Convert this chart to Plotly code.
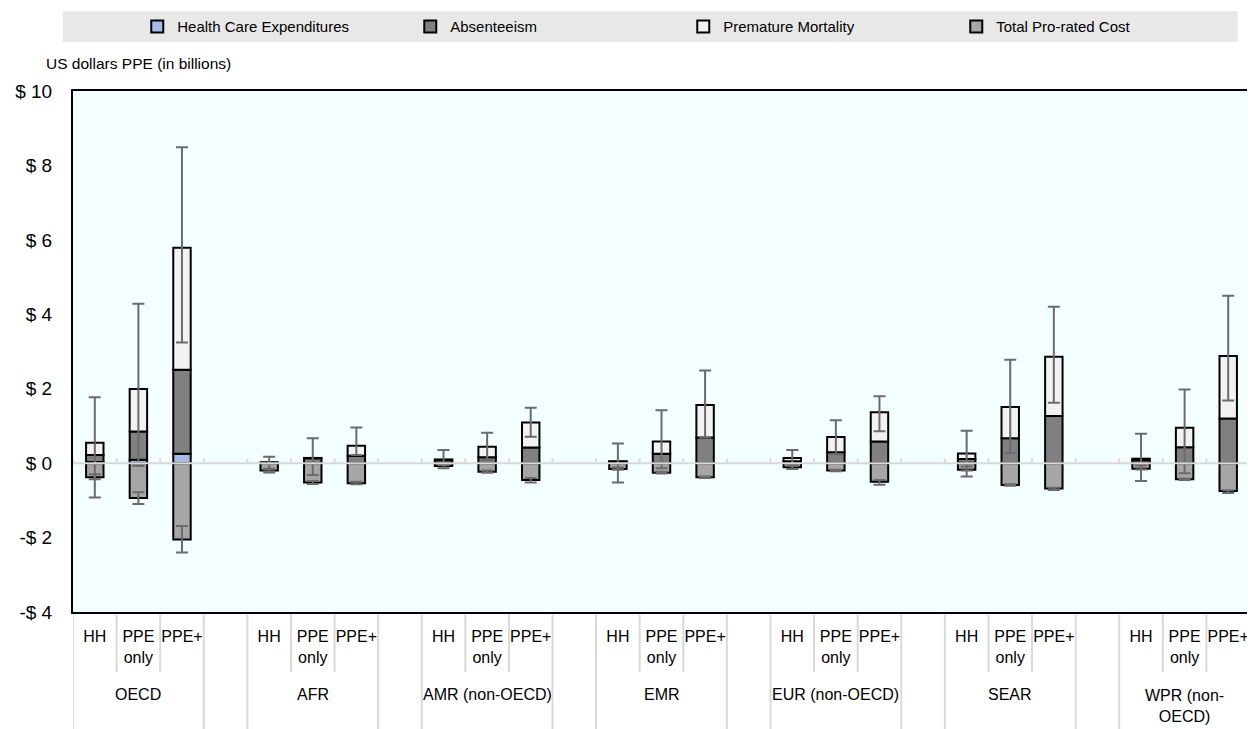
import plotly.graph_objects as go

# ---------------- data ----------------
groups = ["OECD", "AFR", "AMR (non-OECD)", "EMR", "EUR (non-OECD)", "SEAR", "WPR (non-<br>OECD)"]
interventions = ["HH", "PPE<br>only", "PPE+"]

health_care = [0.03, 0.09, 0.25,  None, None, None,  None, None, None,  None, None, None,
               None, None, None,  0.01, None, None,  None, None, None]
absenteeism = [0.19, 0.76, 2.26,  0.02, 0.13, 0.20,  0.08, 0.16, 0.42,  0.04, 0.25, 0.69,
               0.05, 0.29, 0.58,  0.10, 0.67, 1.27,  0.08, 0.43, 1.20]
premature = [0.33, 1.14, 3.28,  0.00, 0.01, 0.27,  0.02, 0.28, 0.67,  0.01, 0.33, 0.87,
             0.09, 0.41, 0.79,  0.15, 0.84, 1.59,  0.04, 0.52, 1.68]
total_cost = [-0.38, -0.94, -2.05,  -0.20, -0.52, -0.54,  -0.08, -0.23, -0.45,  -0.16, -0.26, -0.38,
              -0.11, -0.20, -0.50,  -0.18, -0.59, -0.68,  -0.15, -0.43, -0.75]
benefit_high = [1.77, 4.28, 8.49,  0.17, 0.67, 0.96,  0.35, 0.82, 1.49,  0.53, 1.42, 2.49,
                0.35, 1.15, 1.80,  0.87, 2.78, 4.20,  0.79, 1.98, 4.50]
benefit_low = [-0.92, -0.08, 3.24,  -0.15, -0.32, 0.22,  -0.02, 0.09, 0.71,  -0.52, -0.14, 0.69,
               -0.05, 0.24, 0.86,  -0.36, 0.28, 1.62,  -0.48, -0.27, 1.68]
cost_high = [-0.30, -0.78, -1.69,  -0.17, -0.48, -0.50,  -0.05, -0.20, -0.40,  -0.12, -0.23, -0.36,
             -0.08, -0.18, -0.45,  -0.09, -0.57, -0.66,  -0.06, -0.41, -0.73]
cost_low = [-0.43, -1.10, -2.40,  -0.25, -0.56, -0.57,  -0.14, -0.26, -0.52,  -0.18, -0.28, -0.40,
            -0.16, -0.22, -0.58,  -0.20, -0.61, -0.72,  -0.17, -0.45, -0.80]

y_ticks = [10, 8, 6, 4, 2, 0, -2, -4]
y_tick_text = ["$ 10", "$ 8", "$ 6", "$ 4", "$ 2", "$ 0", "-$ 2", "-$ 4"]

# ---------------- layout helpers ----------------
SLOTS = 4  # three bars + one blank slot per group
n_groups = len(groups)
x_pos = [SLOTS * g + j for g in range(n_groups) for j in range(len(interventions))]
n_slots = SLOTS * n_groups - 1

FONT = "Liberation Sans, Arial, sans-serif"
C_HCE = "#A9B9E6"
C_ABS = "#808080"
C_PM = "#F2F2F2"
C_COST = "#A6A6A6"
C_ERR = "#6B6B6B"
C_SEP = "#D9D9D9"
BAR_W = 0.4

fig = go.Figure()

def bar(name, vals, color):
    fig.add_trace(go.Bar(
        x=x_pos, y=vals, name=name, width=BAR_W,
        marker=dict(color=color, line=dict(color="black", width=2)),
    ))

bar("Health Care Expenditures", health_care, C_HCE)
bar("Absenteeism", absenteeism, C_ABS)
bar("Premature Mortality", premature, C_PM)
bar("Total Pro-rated Cost", total_cost, C_COST)

# error bars (drawn on top of the bars)
benefit_total = [(h or 0) + a + p for h, a, p in zip(health_care, absenteeism, premature)]
fig.add_trace(go.Scatter(
    x=x_pos, y=benefit_total, mode="markers",
    marker=dict(size=1, opacity=0), showlegend=False, hoverinfo="skip",
    error_y=dict(type="data", symmetric=False,
                 array=[hi - t for hi, t in zip(benefit_high, benefit_total)],
                 arrayminus=[t - lo for lo, t in zip(benefit_low, benefit_total)],
                 color=C_ERR, thickness=2, width=6),
))
fig.add_trace(go.Scatter(
    x=x_pos, y=total_cost, mode="markers",
    marker=dict(size=1, opacity=0), showlegend=False, hoverinfo="skip",
    error_y=dict(type="data", symmetric=False,
                 array=[hi - c for hi, c in zip(cost_high, total_cost)],
                 arrayminus=[c - lo for lo, c in zip(cost_low, total_cost)],
                 color=C_ERR, thickness=2, width=6),
))

shapes = []
# legend band
shapes.append(dict(type="rect", xref="paper", yref="paper", x0=-0.0085, x1=0.9895,
                   y0=1.094, y1=1.153, fillcolor="#E8E8E8", line=dict(width=0), layer="below"))
# zero line with small tick marks, drawn over the bars
shapes.append(dict(type="line", xref="x", yref="y", x0=-0.5, x1=n_slots - 0.5, y0=0, y1=0,
                   line=dict(color=C_SEP, width=2), layer="above"))
for k in range(n_slots + 1):
    shapes.append(dict(type="line", xref="x", yref="y", x0=k - 0.5, x1=k - 0.5, y0=0, y1=0.12,
                       line=dict(color=C_SEP, width=2), layer="above"))
# category separators below the plot
for g in range(n_groups):
    base = SLOTS * g
    for b in (base - 0.5, base + 2.5):
        shapes.append(dict(type="line", xref="x", yref="paper", x0=b, x1=b, y0=-0.005, y1=-0.225,
                           line=dict(color=C_SEP, width=2)))
    for b in (base + 0.5, base + 1.5):
        shapes.append(dict(type="line", xref="x", yref="paper", x0=b, x1=b, y0=-0.005, y1=-0.115,
                           line=dict(color=C_SEP, width=2)))

annotations = []
for g, name in enumerate(groups):
    two_line = "<br>" in name
    annotations.append(dict(x=SLOTS * g + 1, y=-0.159 if not two_line else -0.180,
                            xref="x", yref="paper", text=name, showarrow=False,
                            xanchor="center", yanchor="middle",
                            font=dict(family=FONT, size=16, color="black")))
annotations.append(dict(x=-0.0245, y=1.052, xref="paper", yref="paper",
                        text="US dollars PPE (in billions)", showarrow=False,
                        xanchor="left", yanchor="middle",
                        font=dict(family=FONT, size=15.5, color="black")))

tick_vals = x_pos
tick_text = [interventions[j] for g in range(n_groups) for j in range(len(interventions))]

# the page body has an 8px margin, so the figure is 8px smaller than the window
fig.update_layout(
    width=1247, height=721,
    margin=dict(l=65, r=5, t=83, b=117, autoexpand=False),
    paper_bgcolor="white", plot_bgcolor="#F3FFFF",
    barmode="relative",
    font=dict(family=FONT, color="black"),
    shapes=shapes, annotations=annotations,
    legend=dict(orientation="h", x=0.0546, xanchor="left", y=1.1235, yanchor="middle",
                bgcolor="rgba(0,0,0,0)", font=dict(family=FONT, size=15, color="black"),
                entrywidth=228, entrywidthmode="pixels", itemclick=False, itemdoubleclick=False,
                traceorder="normal"),
    xaxis=dict(range=[-0.5, n_slots - 0.5], tickmode="array", tickvals=tick_vals, ticktext=tick_text,
               showgrid=False, zeroline=False, showline=True, linecolor="black", linewidth=2,
               mirror=True, ticks="", ticklabelstandoff=9,
               tickfont=dict(family=FONT, size=16, color="black")),
    yaxis=dict(range=[-4, 10], tickmode="array", tickvals=y_ticks, ticktext=y_tick_text,
               showgrid=False, zeroline=False, showline=True, linecolor="black", linewidth=2,
               mirror=True, ticks="", ticklabelstandoff=15,
               tickfont=dict(family=FONT, size=19, color="black")),
)

fig.write_html("out.html")
